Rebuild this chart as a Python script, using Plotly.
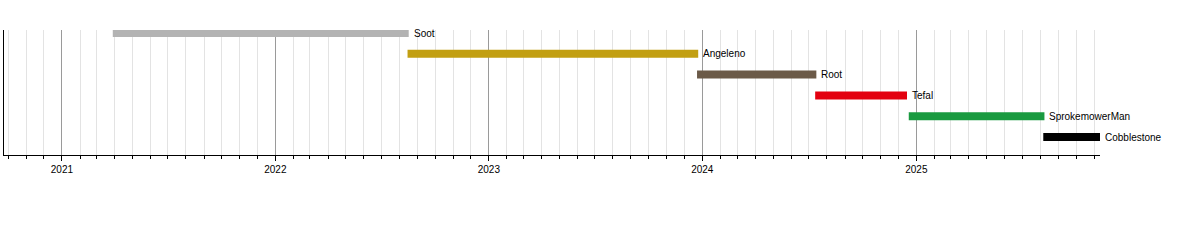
import plotly.graph_objects as go
import pandas as pd

names = ["Soot", "Angeleno", "Root", "Tefal", "SprokemowerMan", "Cobblestone"]
starts = ["2021-03-29", "2022-08-15", "2023-12-23", "2024-07-12", "2024-12-19", "2025-08-06"]
ends = ["2022-08-17", "2023-12-25", "2024-07-14", "2024-12-16", "2025-08-08", "2025-11-11"]
colors = ["#b3b3b3", "#c29f12", "#6b5a48", "#e3000f", "#1a9a40", "#000000"]

fig = go.Figure()
for i, (n, s, e, c) in enumerate(zip(names, starts, ends, colors)):
    dur = (pd.Timestamp(e) - pd.Timestamp(s)).total_seconds() * 1000
    fig.add_trace(go.Bar(
        y=[i], x=[dur], base=[s], orientation="h", width=0.385,
        marker=dict(color=c, line=dict(width=0)), showlegend=False, hoverinfo="skip",
    ))
    fig.add_annotation(x=e, y=i, text=n, showarrow=False, xanchor="left", yanchor="middle",
                       xshift=3, font=dict(family="Liberation Sans, Arial", size=10, color="#000"))

fig.update_layout(
    width=1200, height=244,
    margin=dict(l=4, r=100, t=30, b=89),
    paper_bgcolor="white", plot_bgcolor="white",
    font=dict(family="Liberation Sans, Arial", size=10, color="#000"),
    xaxis=dict(
        type="date", range=["2020-09-24", "2025-11-11"],
        tick0="2021-01-01", dtick="M12", tickformat="%Y",
        showgrid=True, gridcolor="#9a9a9a", gridwidth=1,
        ticks="outside", ticklen=5, tickcolor="#000", tickwidth=1,
        showline=True, linecolor="#000", linewidth=1,
        zeroline=False,
        minor=dict(dtick="M1", tick0="2021-01-01", showgrid=True, gridcolor="#e3e3e3",
                   gridwidth=1, ticks="outside", ticklen=3, tickcolor="#000"),
    ),
    yaxis=dict(
        range=[5.865, -0.144], showgrid=False, zeroline=False, showticklabels=False,
        ticks="", showline=True, linecolor="#000", linewidth=1,
    ),
)

fig.write_html("out.html")
